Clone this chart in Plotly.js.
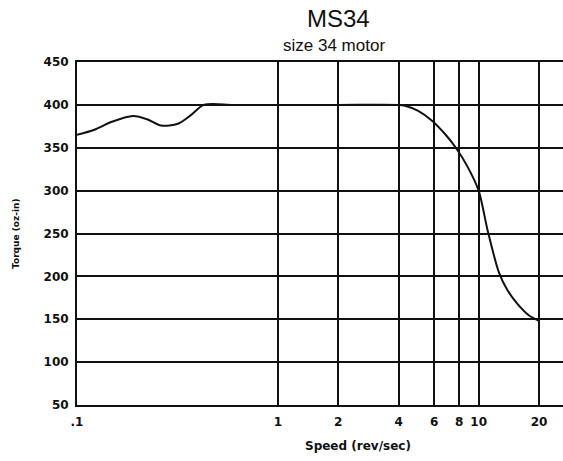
<!DOCTYPE html>
<html>
<head>
<meta charset="utf-8">
<script src="https://cdn.plot.ly/plotly-3.0.1.min.js"></script>
<style>html,body{margin:0;padding:0;background:#fff;}#chart{width:563px;height:461px;}</style>
</head>
<body>
<div id="chart"></div>
<script>
// Torque curve
const speed = [0.1, 0.122, 0.148, 0.19, 0.225, 0.262, 0.318, 0.369, 0.428, 0.6, 1, 2, 4, 4.3, 5, 5.9, 6.8, 7.7, 8.8, 10, 11.1, 12.6, 13.9, 15.6, 17.7, 20];
const torque = [365, 371, 380, 387, 383, 376, 378, 388, 400, 400, 400, 400, 400, 399, 393, 381, 366, 350, 328, 300, 253, 205, 184, 168, 155, 148];

const xTickVals = [0.1, 1, 2, 4, 6, 8, 10, 20];
const xTickText = ['.1', '1', '2', '4', '6', '8', '10', '20'];
const yTickVals = [50, 100, 150, 200, 250, 300, 350, 400, 450];

const titleText = 'MS34';
const subtitleText = 'size 34 motor';
const xTitle = 'Speed (rev/sec)';
const yTitle = 'Torque (oz-in)';

const trace = {
  x: speed, y: torque, type: 'scatter', mode: 'lines',
  line: {color: '#111', width: 2, shape: 'spline', smoothing: 0.8},
  hoverinfo: 'skip', showlegend: false
};

const tickFont = {family: 'DejaVu Sans', size: 12, color: '#111', weight: 'bold'};

const layout = {
  width: 563, height: 461,
  margin: {l: 77, r: 0, t: 62, b: 56},
  paper_bgcolor: '#fff', plot_bgcolor: '#fff',
  showlegend: false,
  xaxis: {
    type: 'log', range: [-1, 1.42],
    tickvals: xTickVals, ticktext: xTickText,
    showgrid: true, gridcolor: '#111', gridwidth: 2,
    showline: true, linecolor: '#111', linewidth: 2, mirror: true,
    ticks: '', ticklabelstandoff: 5,
    tickfont: tickFont, zeroline: false, fixedrange: true
  },
  yaxis: {
    range: [50, 450], tickvals: yTickVals,
    showgrid: true, gridcolor: '#111', gridwidth: 2,
    showline: true, linecolor: '#111', linewidth: 2, mirror: false,
    ticks: '', ticklabelstandoff: 4,
    tickfont: tickFont, zeroline: false, fixedrange: true
  },
  annotations: [
    {text: titleText, xref: 'paper', yref: 'paper', x: (338-77)/486, y: 1 + (62-18)/343, xanchor: 'center', yanchor: 'middle', showarrow: false,
     font: {family: 'Liberation Sans', size: 24, color: '#111'}},
    {text: subtitleText, xref: 'paper', yref: 'paper', x: (334-77)/486, y: 1 + (62-46)/343, xanchor: 'center', yanchor: 'middle', showarrow: false,
     font: {family: 'Liberation Sans', size: 17, color: '#111'}},
    {text: xTitle, xref: 'paper', yref: 'paper', x: (358-77)/486, y: -(446-405)/343, xanchor: 'center', yanchor: 'middle', showarrow: false,
     font: {family: 'DejaVu Sans', size: 12, color: '#111', weight: 'bold'}},
    {text: yTitle, xref: 'paper', yref: 'paper', x: -(77-16)/486, y: (405-233)/343, xanchor: 'center', yanchor: 'middle', showarrow: false, textangle: -90,
     font: {family: 'DejaVu Sans', size: 9, color: '#111', weight: 'bold'}}
  ]
};

Plotly.newPlot('chart', [trace], layout, {displayModeBar: false, staticPlot: true});
</script>
</body>
</html>
